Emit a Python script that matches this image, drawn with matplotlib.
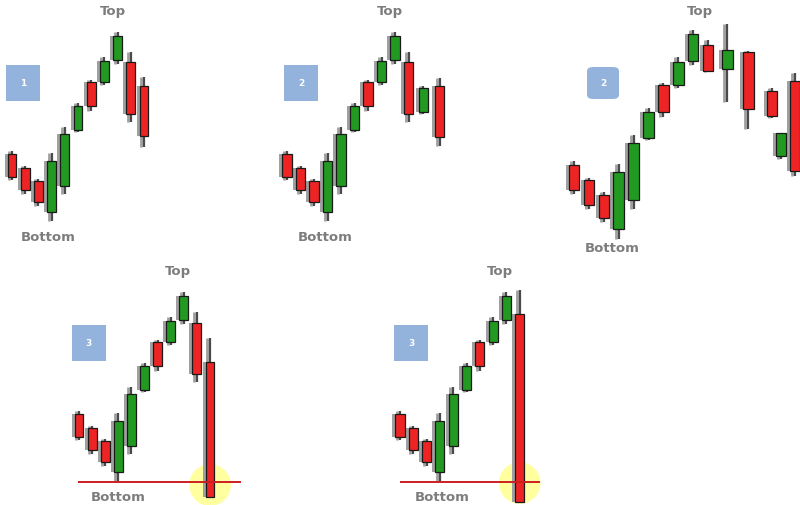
import matplotlib
matplotlib.use("Agg")
import matplotlib.pyplot as plt
from matplotlib.patches import Rectangle, FancyBboxPatch
from matplotlib.transforms import offset_copy

# ---- data (price units) ----
# shared rise: open, high, low, close
rise_open  = [95, 81, 68, 37, 63, 119, 167, 167, 189]
rise_high  = [98, 83, 70, 96, 122, 146, 169, 192, 217]
rise_low   = [69, 55, 43, 28, 55, 117, 138, 164, 185]
rise_close = [72, 59, 47, 88, 115, 143, 143, 188, 213]

# panel 1 ending
p1_open  = [187, 163]
p1_high  = [197, 172]
p1_low   = [127, 102]
p1_close = [135, 113]
p1_t     = [0, 1, 2, 3, 4, 5, 6, 7, 8, 9, 10]

# panel 2 ending
p2_open  = [187, 137, 163]
p2_high  = [197, 163, 171]
p2_low   = [127, 135, 103]
p2_close = [135, 161, 112]
p2_t     = [0, 1, 2, 3, 4, 5, 6, 7, 8, 9, 10.1, 11.3]

# panel 3 ending
p3_open  = [203, 181, 197, 162, 103, 171]
p3_high  = [208, 222, 198, 164, 124, 178]
p3_low   = [179, 152, 127, 137, 100, 85]
p3_close = [180, 199, 145, 139, 124, 89]
p3_t     = [0, 1, 2, 3, 4, 5, 6, 7, 8, 9, 10.3, 11.7, 13.3, 13.9, 14.85]

# panel 4 ending
p4_open  = [186, 147]
p4_high  = [197, 171]
p4_low   = [127, 12]
p4_close = [135, 12]
p4_t     = [0, 1, 2, 3, 4, 5, 6, 7, 8, 9, 10]

# panel 5 ending
p5_open  = [195]
p5_high  = [219]
p5_low   = [7]
p5_close = [7]
p5_t     = [0, 1, 2, 3, 4, 5, 6, 7, 8, 9]

support_level = 27
top_label = "Top"
bottom_label = "Bottom"
box_labels = ["1", "2", "2", "3", "3"]

RED = "#ee2424"
GREEN = "#229a22"
SHADOW = "#a0a0a0"
WICK = "#4a4a4a"
BOX = "#93b3dc"
TXT = "#7d7d7d"

W, H = 800, 506
fig = plt.figure(figsize=(W / 100, H / 100), dpi=100)
fig.patch.set_facecolor("white")


def add_panel(px0, px1, py0, py1, x_origin, x_step, y_top_price, y_bot_price):
    ax = fig.add_axes([px0 / W, 1 - py1 / H, (px1 - px0) / W, (py1 - py0) / H])
    ax.set_xlim((px0 - x_origin) / x_step, (px1 - x_origin) / x_step)
    ax.set_ylim(y_bot_price, y_top_price)
    ax.axis("off")
    return ax


def draw_candles(ax, t, o, h, l, c, width=0.68):
    shadow_tr = offset_copy(ax.transData, fig=fig, x=-3, y=0, units="dots")
    for xi, oi, hi, li, ci in zip(t, o, h, l, c):
        bot, top = min(oi, ci), max(oi, ci)
        col = GREEN if ci > oi else RED
        ax.vlines(xi, li, hi, color=SHADOW, lw=2.0, transform=shadow_tr, zorder=1)
        ax.add_patch(Rectangle((xi - width / 2, bot), width, top - bot,
                               facecolor=SHADOW, edgecolor="none",
                               transform=shadow_tr, zorder=1))
        ax.vlines(xi, li, hi, color=WICK, lw=1.6, zorder=2)
        ax.add_patch(Rectangle((xi - width / 2, bot), width, top - bot,
                               facecolor=col, edgecolor="#1a1a1a", lw=0.9, zorder=3))


def P(x, y):
    return x / W, 1 - y / H


def label(x, y, s):
    fig.text(*P(x, y), s, ha="center", va="center", fontsize=9.5,
             fontweight="bold", color=TXT)


def box(x0, x1, y0, y1, s, rounded=False):
    fx0, fy1 = P(x0, y0)
    fx1, fy0 = P(x1, y1)
    if rounded:
        patch = FancyBboxPatch((fx0, fy0), fx1 - fx0, fy1 - fy0,
                               boxstyle="round,pad=0,rounding_size=0.008",
                               transform=fig.transFigure, facecolor=BOX,
                               edgecolor="none")
    else:
        patch = Rectangle((fx0, fy0), fx1 - fx0, fy1 - fy0,
                          transform=fig.transFigure, facecolor=BOX, edgecolor="none")
    fig.add_artist(patch)
    fig.text((fx0 + fx1) / 2, (fy0 + fy1) / 2, s, ha="center", va="center",
             fontsize=6.5, fontweight="bold", color="white")


# Panel 1
ax1 = add_panel(0, 165, 0, 250, 12, 13.2, 250, 0)
draw_candles(ax1, p1_t, rise_open + p1_open, rise_high + p1_high,
             rise_low + p1_low, rise_close + p1_close)
label(113, 11, top_label)
label(48, 238, bottom_label)
box(6, 40, 66, 102, box_labels[0])

# Panel 2
ax2 = add_panel(270, 460, 0, 250, 287, 13.5, 250, 0)
draw_candles(ax2, p2_t, rise_open + p2_open, rise_high + p2_high,
             rise_low + p2_low, rise_close + p2_close)
label(390, 11, top_label)
label(325, 238, bottom_label)
box(284, 318, 66, 102, box_labels[1])

# Panel 3 (scaled up)
ax3 = add_panel(540, 800, 0, 260, 574, 14.9, 244.6, 9.9)
draw_candles(ax3, p3_t, rise_open + p3_open, rise_high + p3_high,
             rise_low + p3_low, rise_close + p3_close, width=0.7)
label(700, 11, top_label)
label(612, 248, bottom_label)
box(587, 619, 68, 100, box_labels[2], rounded=True)

# Panel 4
ax4 = add_panel(60, 260, 260, 506, 79, 13.1, 250, 4)
ax4.scatter([p4_t[-1]], [support_level - 3], s=900, color="#ffff88",
            alpha=0.8, edgecolors="none", zorder=0)
draw_candles(ax4, p4_t, rise_open + p4_open, rise_high + p4_high,
             rise_low + p4_low, rise_close + p4_close)
ax4.hlines(support_level, -0.1, 12.4, color="#cc1f1f", lw=1.4, zorder=4)
label(178, 271, top_label)
label(118, 498, bottom_label)
box(72, 106, 326, 362, box_labels[3])

# Panel 5
ax5 = add_panel(380, 560, 260, 506, 400, 13.3, 250, 4)
ax5.scatter([p5_t[-1]], [support_level - 1], s=900, color="#ffff88",
            alpha=0.8, edgecolors="none", zorder=0)
draw_candles(ax5, p5_t, rise_open + p5_open, rise_high + p5_high,
             rise_low + p5_low, rise_close + p5_close)
ax5.hlines(support_level, 0, 10.5, color="#cc1f1f", lw=1.4, zorder=4)
label(500, 271, top_label)
label(442, 498, bottom_label)
box(394, 428, 326, 362, box_labels[4])

fig.savefig("out.png", dpi=100, facecolor="white")
